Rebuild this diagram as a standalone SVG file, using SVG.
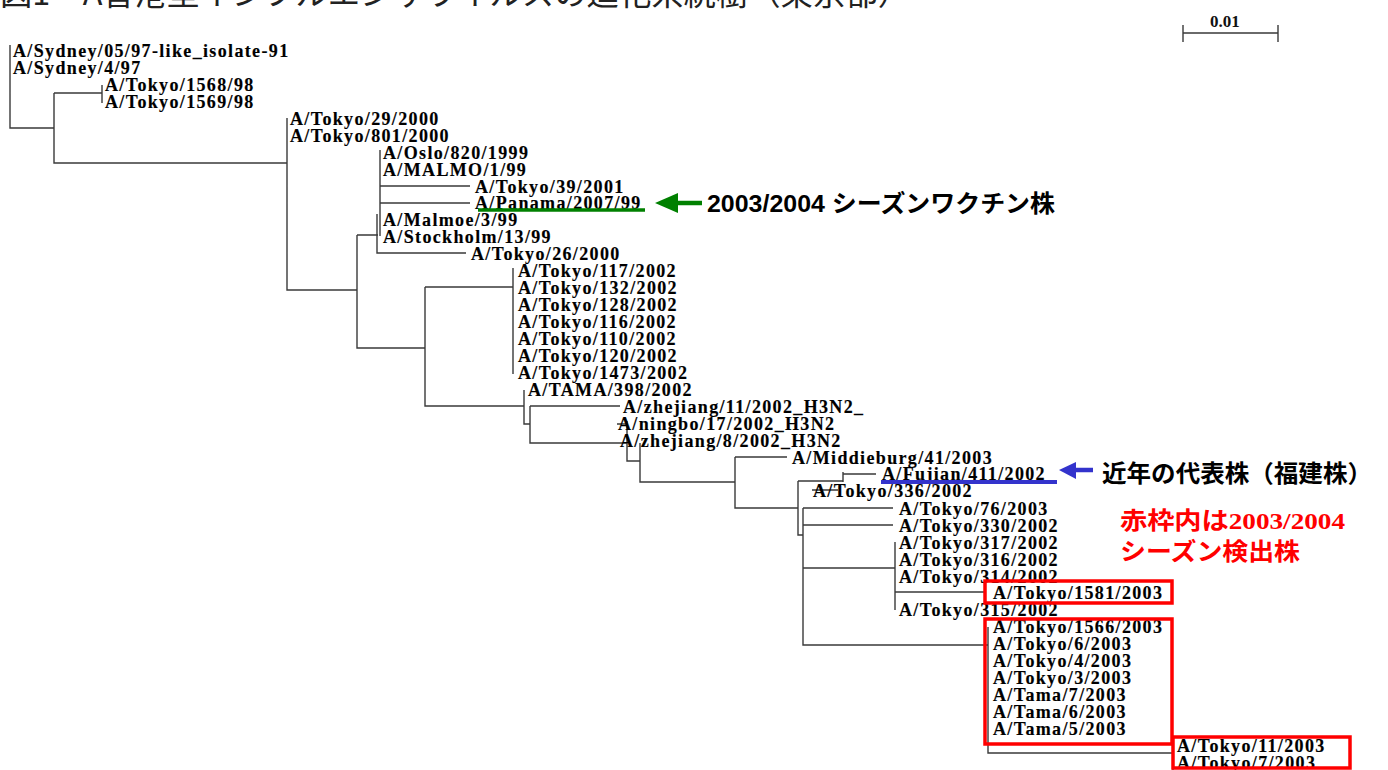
<svg xmlns="http://www.w3.org/2000/svg" width="1388" height="770" viewBox="0 0 1388 770">
<style>
.lb{font-family:"Liberation Serif","Times New Roman",serif;font-weight:bold;font-size:18px;letter-spacing:1.35px;fill:#000;stroke:#000;stroke-width:0.15}
.br{fill:none;stroke:#3a3a3a;stroke-width:1.4}
.box{fill:none;stroke:#ff0000;stroke-width:3.5}
.jp{font-family:"Liberation Sans","Noto Sans CJK JP",sans-serif;font-weight:bold;font-size:24px}
</style>
<rect width="1388" height="770" fill="#ffffff"/>
<text x="0" y="5" textLength="910" lengthAdjust="spacingAndGlyphs" style="font-family:'Noto Sans CJK JP',sans-serif;font-size:32px;fill:#222">図1　A香港型インフルエンザウイルスの進化系統樹（東京都）</text>

<g id="scale">
<text x="1210" y="27" style="font-family:'Liberation Serif',serif;font-weight:bold;font-size:17px;fill:#111">0.01</text>
<path class="br" d="M1183 33H1278M1183 25V42M1278 25V42"/>
</g>

<g id="connectors">
<path class="br" d="M10 45V128H54M54 93V163H287M54 93H102M102 85V103
M287 118V290H357M357 235V348H425M357 235H378M380 150V236M377 214V253H466M380 186H470M380 203H470
M425 287V406H524M425 287H513M513 268V374
M524 390V424H530M530 406V443H627M530 406H620
M627 421V461H640M617 424H627M640 443V482H735
M735 457V508H798M735 457H787
M798 481V535H803M798 481H843M843 472V482M843 474H876M812 490H838
M803 508V645H988M803 508H893M803 525H893M803 568H895
M895 542V610M895 592H985
M988 627V753H1173M1173 745V770"/>
</g>

<g id="n_sydney05"><text class="lb" x="13" y="57">A/Sydney/05/97-like_isolate-91</text></g>
<g id="n_sydney4"><text class="lb" x="13" y="74">A/Sydney/4/97</text></g>
<g id="n_tokyo1568"><text class="lb" x="105" y="91">A/Tokyo/1568/98</text></g>
<g id="n_tokyo1569"><text class="lb" x="105" y="108">A/Tokyo/1569/98</text></g>
<g id="n_tokyo29"><text class="lb" x="290" y="125">A/Tokyo/29/2000</text></g>
<g id="n_tokyo801"><text class="lb" x="290" y="142">A/Tokyo/801/2000</text></g>
<g id="n_oslo"><text class="lb" x="383" y="159">A/Oslo/820/1999</text></g>
<g id="n_malmo1"><text class="lb" x="383" y="176">A/MALMO/1/99</text></g>
<g id="n_tokyo39"><text class="lb" x="475" y="193">A/Tokyo/39/2001</text></g>
<g id="n_panama"><text class="lb" x="475" y="209">A/Panama/2007/99</text>
<path d="M478 210H645" stroke="#008000" stroke-width="3.5"/></g>
<g id="n_malmoe"><text class="lb" x="383" y="226">A/Malmoe/3/99</text></g>
<g id="n_stockholm"><text class="lb" x="383" y="243">A/Stockholm/13/99</text></g>
<g id="n_tokyo26"><text class="lb" x="471" y="260">A/Tokyo/26/2000</text></g>
<g id="n_tokyo117"><text class="lb" x="518" y="277">A/Tokyo/117/2002</text></g>
<g id="n_tokyo132"><text class="lb" x="518" y="294">A/Tokyo/132/2002</text></g>
<g id="n_tokyo128"><text class="lb" x="518" y="311">A/Tokyo/128/2002</text></g>
<g id="n_tokyo116"><text class="lb" x="518" y="328">A/Tokyo/116/2002</text></g>
<g id="n_tokyo110"><text class="lb" x="518" y="345">A/Tokyo/110/2002</text></g>
<g id="n_tokyo120"><text class="lb" x="518" y="362">A/Tokyo/120/2002</text></g>
<g id="n_tokyo1473"><text class="lb" x="518" y="379">A/Tokyo/1473/2002</text></g>
<g id="n_tama398"><text class="lb" x="528" y="396">A/TAMA/398/2002</text></g>
<g id="n_zhejiang11"><text class="lb" x="623" y="413">A/zhejiang/11/2002_H3N2_</text></g>
<g id="n_ningbo"><text class="lb" x="618" y="430">A/ningbo/17/2002_H3N2</text></g>
<g id="n_zhejiang8"><text class="lb" x="620" y="447">A/zhejiang/8/2002_H3N2</text></g>
<g id="n_middieburg"><text class="lb" x="792" y="464">A/Middieburg/41/2003</text></g>
<g id="n_fujian"><text class="lb" x="882" y="480">A/Fujian/411/2002</text>
<path d="M881 482H1057" stroke="#3333cc" stroke-width="4"/></g>
<g id="n_tokyo336"><text class="lb" x="813" y="497">A/Tokyo/336/2002</text></g>
<g id="n_tokyo76"><text class="lb" x="899" y="515">A/Tokyo/76/2003</text></g>
<g id="n_tokyo330"><text class="lb" x="899" y="532">A/Tokyo/330/2002</text></g>
<g id="n_tokyo317"><text class="lb" x="899" y="549">A/Tokyo/317/2002</text></g>
<g id="n_tokyo316"><text class="lb" x="899" y="566">A/Tokyo/316/2002</text></g>
<g id="n_tokyo314"><text class="lb" x="899" y="583">A/Tokyo/314/2002</text></g>
<g id="n_tokyo1581"><text class="lb" x="993" y="599">A/Tokyo/1581/2003</text></g>
<g id="n_tokyo315"><text class="lb" x="899" y="616">A/Tokyo/315/2002</text></g>
<g id="n_tokyo1566"><text class="lb" x="993" y="633">A/Tokyo/1566/2003</text></g>
<g id="n_tokyo6"><text class="lb" x="993" y="650">A/Tokyo/6/2003</text></g>
<g id="n_tokyo4"><text class="lb" x="993" y="667">A/Tokyo/4/2003</text></g>
<g id="n_tokyo3"><text class="lb" x="993" y="684">A/Tokyo/3/2003</text></g>
<g id="n_tama7"><text class="lb" x="993" y="701">A/Tama/7/2003</text></g>
<g id="n_tama6"><text class="lb" x="993" y="718">A/Tama/6/2003</text></g>
<g id="n_tama5"><text class="lb" x="993" y="735">A/Tama/5/2003</text></g>
<g id="n_tokyo11"><text class="lb" x="1177" y="752">A/Tokyo/11/2003</text></g>
<g id="n_tokyo7"><text class="lb" x="1177" y="769">A/Tokyo/7/2003</text></g>

<g id="redboxes">
<rect class="box" x="985" y="581" width="187" height="22"/>
<rect class="box" x="985" y="619" width="187" height="125"/>
<rect class="box" x="1173" y="737" width="177" height="31"/>
</g>

<g id="vaccine_note">
<path d="M677 203H702" stroke="#008000" stroke-width="4.5"/>
<polygon points="655,203 678,193 678,213" fill="#008000"/>
<text class="jp" x="707" y="212" textLength="348" lengthAdjust="spacingAndGlyphs" fill="#000">2003/2004 シーズンワクチン株</text>
</g>

<g id="fujian_note">
<path d="M1074 470H1093" stroke="#3333cc" stroke-width="4.5"/>
<polygon points="1059,470 1076,462 1076,479" fill="#3333cc"/>
<text class="jp" x="1102" y="482" font-size="25" textLength="270" lengthAdjust="spacingAndGlyphs" fill="#000">近年の代表株（福建株）</text>
</g>

<g id="red_note">
<text class="jp" x="1120" y="529" fill="#ff0000" textLength="225" lengthAdjust="spacingAndGlyphs">赤枠内は<tspan style="font-family:'Liberation Serif',serif">2003/2004</tspan></text>
<text class="jp" x="1120" y="560" fill="#ff0000" textLength="180" lengthAdjust="spacingAndGlyphs">シーズン検出株</text>
</g>
</svg>
